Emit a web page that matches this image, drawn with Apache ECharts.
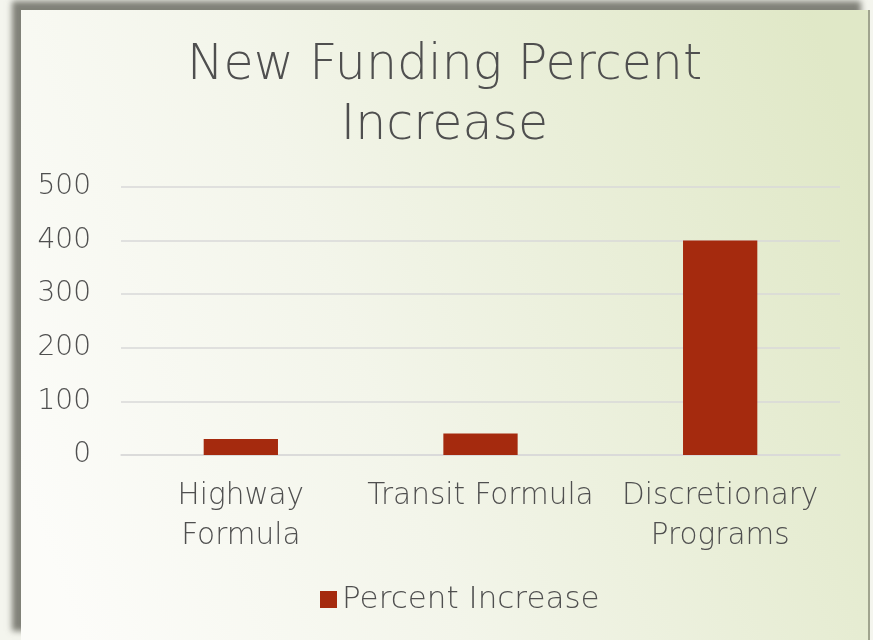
<!DOCTYPE html>
<html>
<head>
<meta charset="utf-8">
<script src="https://cdn.jsdelivr.net/npm/echarts@6/dist/echarts.min.js"></script>
<style>
  html, body { margin:0; padding:0; width:873px; height:640px; overflow:hidden; background:#f4f5ee; }
  #panel {
    position:absolute; left:21px; top:10px; width:847px; height:630px;
    box-shadow:-9px -9px 6px rgba(90,90,80,0.75);
    border-right:2px solid #a0a48e;
  }
  #main { width:847px; height:630px; }
</style>
</head>
<body>
<div id="panel"><div id="main"></div></div>
<script>
  // chart data
  var categories = ['Highway\nFormula', 'Transit Formula', 'Discretionary\nPrograms'];
  var percentIncrease = [30, 40, 400];
  var yTicks = [0, 100, 200, 300, 400, 500];

  var font = '"DejaVu Sans", sans-serif';
  var textColor = '#4f4f4f';

  var myChart = echarts.init(document.getElementById('main'));
  var option = {
    backgroundColor: new echarts.graphic.LinearGradient(0, 0.75, 1, 0.25, [
      { offset: 0, color: '#fcfcf9' },
      { offset: 0.4, color: '#f3f5ea' },
      { offset: 1, color: '#e0e8c7' }
    ]),
    title: {
      text: 'New Funding Percent\nIncrease',
      left: 'center',
      top: 21,
      textStyle: {
        fontFamily: font,
        fontWeight: 200,
        fontSize: 49,
        lineHeight: 60,
        color: textColor
      }
    },
    legend: {
      top: 569,
      left: 294,
      itemWidth: 17,
      itemHeight: 17,
      icon: 'rect',
      itemGap: 10,
      textStyle: { fontFamily: font, fontWeight: 200, fontSize: 31, color: textColor },
      data: ['Percent Increase']
    },
    grid: { left: 100, right: 28, top: 177, bottom: 185 },
    xAxis: {
      type: 'category',
      data: categories,
      axisLine: { lineStyle: { color: '#d9d9d9', width: 1.5 } },
      axisTick: { show: false },
      axisLabel: {
        interval: 0,
        margin: 21,
        fontFamily: font,
        fontWeight: 200,
        fontSize: 29.5,
        lineHeight: 40,
        color: textColor
      }
    },
    yAxis: {
      type: 'value',
      min: yTicks[0],
      max: yTicks[yTicks.length - 1],
      interval: 100,
      axisLine: { show: false },
      axisTick: { show: false },
      splitLine: { lineStyle: { color: '#d9d9d9', width: 1.5 } },
      axisLabel: {
        margin: 30,
        fontFamily: font,
        fontWeight: 200,
        fontSize: 28,
        color: textColor
      }
    },
    series: [{
      name: 'Percent Increase',
      type: 'bar',
      data: percentIncrease,
      barWidth: '31%',
      itemStyle: { color: '#a52a0e' }
    }]
  };
  myChart.setOption(option);
</script>
</body>
</html>
